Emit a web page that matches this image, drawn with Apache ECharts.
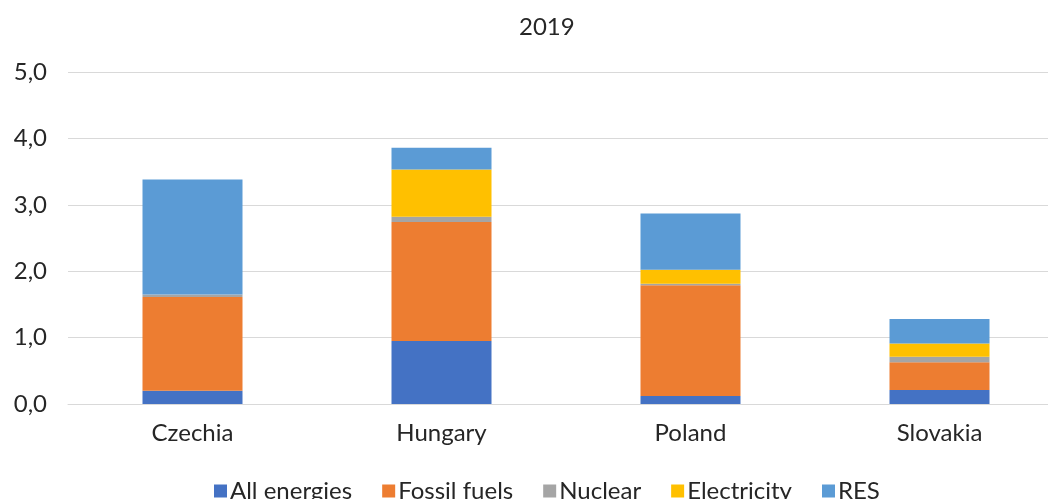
<!DOCTYPE html>
<html>
<head>
<meta charset="utf-8">
<script src="https://cdn.jsdelivr.net/npm/echarts@6/dist/echarts.min.js"></script>
<style>
html,body{margin:0;padding:0;background:#fff;overflow:hidden;width:1048px;height:499px;}
#chart{width:1068px;height:499px;}
</style>
</head>
<body>
<div id="chart"></div>
<script>
const categories = ['Czechia', 'Hungary', 'Poland', 'Slovakia'];
const allEnergies = [0.20, 0.95, 0.12, 0.21];
const fossilFuels = [1.41, 1.79, 1.67, 0.42];
const nuclear = [0.04, 0.08, 0.02, 0.08];
const electricity = [0.00, 0.71, 0.21, 0.20];
const res = [1.73, 0.33, 0.85, 0.37];
const yTicks = [0, 1, 2, 3, 4, 5];

const seriesDefs = [
  ['All energies', allEnergies, '#4472C4'],
  ['Fossil fuels', fossilFuels, '#ED7D31'],
  ['Nuclear', nuclear, '#A5A5A5'],
  ['Electricity', electricity, '#FFC000'],
  ['RES', res, '#5B9BD5']
];

const font = 'Lato, "Open Sans", sans-serif';
const chart = echarts.init(document.getElementById('chart'), null, {renderer: 'canvas'});
chart.setOption({
  animation: false,
  backgroundColor: '#fff',
  title: {
    text: '2019', left: 514, top: 10,
    textStyle: {fontFamily: font, fontSize: 24, fontWeight: 'normal', color: '#262626'}
  },
  legend: {
    left: 209, top: 474, itemWidth: 13, itemHeight: 13, itemGap: 30,
    icon: 'rect',
    textStyle: {fontFamily: font, fontSize: 24, color: '#262626', padding: [0, 0, 0, -2]},
    data: seriesDefs.map(d => d[0])
  },
  grid: {left: 68, top: 72, width: 996, height: 332, containLabel: false},
  xAxis: {
    type: 'category', data: categories,
    axisLine: {lineStyle: {color: '#d9d9d9', width: 1}},
    axisTick: {show: false},
    axisLabel: {fontFamily: font, fontSize: 24, color: '#262626', margin: 17}
  },
  yAxis: {
    type: 'value', min: yTicks[0], max: yTicks[yTicks.length - 1], interval: 1,
    axisLine: {show: false}, axisTick: {show: false},
    splitLine: {lineStyle: {color: '#d9d9d9', width: 1}},
    axisLabel: {
      fontFamily: font, fontSize: 24, color: '#262626', margin: 21,
      formatter: v => v.toFixed(1).replace('.', ',')
    }
  },
  series: seriesDefs.map(d => ({
    name: d[0], type: 'bar', stack: 'total', data: d[1],
    barWidth: 100,
    itemStyle: {color: d[2]}
  }))
});
</script>
</body>
</html>
